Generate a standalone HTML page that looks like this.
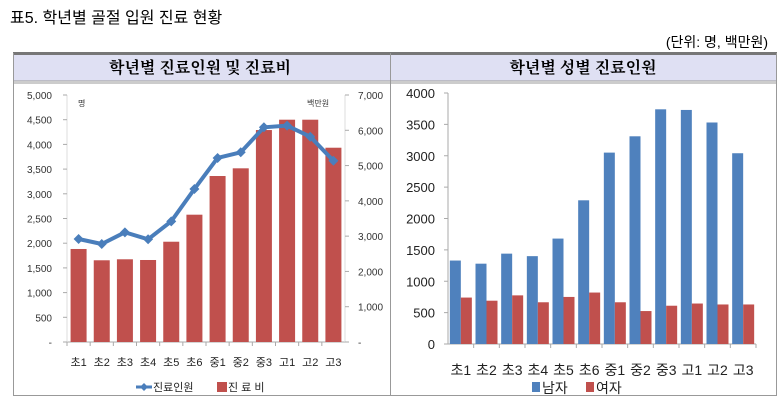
<!DOCTYPE html>
<html><head><meta charset="utf-8">
<style>
body{margin:0;background:#fff;width:781px;height:413px;overflow:hidden;font-family:"Liberation Sans","Noto Sans CJK KR",sans-serif;}
svg{display:block}
</style></head>
<body>
<svg id="s" width="781" height="413" xmlns="http://www.w3.org/2000/svg" font-family="'Liberation Sans','Noto Sans CJK KR',sans-serif">
<text x="10" y="23" font-size="16" font-family="'Liberation Sans','Noto Sans CJK KR',sans-serif">표5. 학년별 골절 입원 진료 현황</text>
<text x="768" y="47" font-size="14" text-anchor="end" font-family="'Liberation Sans','Noto Sans CJK KR',sans-serif">(단위: 명, 백만원)</text>
<rect x="13" y="54" width="764" height="27" fill="#dfe0f3"/>
<line x1="13" y1="53.5" x2="777" y2="53.5" stroke="#777" stroke-width="3"/>
<line x1="13" y1="81" x2="777" y2="81" stroke="#999" stroke-width="1"/>
<line x1="13" y1="83" x2="777" y2="83" stroke="#999" stroke-width="1"/>
<line x1="13.5" y1="53" x2="13.5" y2="396" stroke="#999"/>
<line x1="776.5" y1="53" x2="776.5" y2="396" stroke="#999"/>
<line x1="390.5" y1="53" x2="390.5" y2="396" stroke="#999"/>
<line x1="13" y1="395.5" x2="777" y2="395.5" stroke="#999"/>
<text x="200" y="73" font-size="16" font-weight="bold" text-anchor="middle" font-family="'Liberation Serif','Noto Serif CJK SC',serif">학년별 진료인원 및 진료비</text>
<text x="583" y="73" font-size="16" font-weight="bold" text-anchor="middle" font-family="'Liberation Serif','Noto Serif CJK SC',serif">학년별 성별 진료인원</text>
<g id="left"></g>
<g id="right"></g>
</svg>
<script>
const categories=["초1","초2","초3","초4","초5","초6","중1","중2","중3","고1","고2","고3"];
const patients=[2085,1984,2220,2079,2443,3097,3725,3840,4346,4379,4156,3670];
const costs=[2636,2316,2344,2324,2842,3608,4704,4922,6007,6300,6300,5506];
const leftTicks=["-","500","1,000","1,500","2,000","2,500","3,000","3,500","4,000","4,500","5,000"];
const rightTicks=["-","1,000","2,000","3,000","4,000","5,000","6,000","7,000"];
const male=[1330,1280,1440,1400,1680,2290,3050,3310,3740,3730,3530,3040];
const female=[740,690,775,665,750,820,665,525,610,645,630,630];
const genderTicks=["0","500","1000","1500","2000","2500","3000","3500","4000"];
const NS="http://www.w3.org/2000/svg";
function mk(p,t,a,txt){const e=document.createElementNS(NS,t);for(const k in a)e.setAttribute(k,a[k]);if(txt!==undefined)e.textContent=txt;p.appendChild(e);return e;}
const L=document.getElementById('left');
const lx0=67,lx1=345,ly0=342,ly1=95;
const yL=v=>ly0-(v/5000)*(ly0-ly1);
const yR=v=>ly0-(v/7000)*(ly0-ly1);
const bw=(lx1-lx0)/categories.length;
const xc=i=>lx0+bw*(i+0.5);
mk(L,'line',{x1:lx0,y1:ly0,x2:lx1,y2:ly0,stroke:'#aaa'});
mk(L,'line',{x1:lx0,y1:ly1,x2:lx0,y2:ly0,stroke:'#ddd'});
mk(L,'line',{x1:lx1,y1:ly1,x2:lx1,y2:ly0,stroke:'#ddd'});
leftTicks.forEach((t,i)=>{const v=i*500;const e=mk(L,'text',{x:52,y:yL(v)+4,'font-size':10,'text-anchor':'end',fill:'#333'},t);


mk(L,'line',{x1:lx0-4,y1:yL(v),x2:lx0,y2:yL(v),stroke:'#aaa'});});
rightTicks.forEach((t,i)=>{const v=i*1000;const e=mk(L,'text',{x:358,y:yR(v)+4,'font-size':10,fill:'#333'},t);


mk(L,'line',{x1:lx1,y1:yR(v),x2:lx1+4,y2:yR(v),stroke:'#aaa'});});
mk(L,'text',{x:78,y:106,'font-size':8,fill:'#333'},'명');
mk(L,'text',{x:307,y:106,'font-size':8,fill:'#333'},'백만원');
categories.forEach((c,i)=>{
 const r=mk(L,'rect',{x:xc(i)-8,y:yR(costs[i]),width:16,height:ly0-yR(costs[i]),fill:'#c0504d'});
 
 
 mk(L,'line',{x1:lx0+bw*i,y1:ly0,x2:lx0+bw*i,y2:ly0+4,stroke:'#aaa'});
 const t=mk(L,'text',{x:xc(i),y:366,'font-size':11,'text-anchor':'middle',fill:'#222'},c);
 
 
});
const pts=patients.map((v,i)=>xc(i)+','+yL(v)).join(' ');
const pl=mk(L,'polyline',{points:pts,fill:'none',stroke:'#4a7ebb','stroke-width':4,'stroke-linejoin':'round'});


patients.forEach((v,i)=>{const x=xc(i),y=yL(v);const d=mk(L,'polygon',{points:`${x},${y-5} ${x+5},${y} ${x},${y+5} ${x-5},${y}`,fill:'#4a7ebb'});

});
const lg1=mk(L,'g',{});


mk(lg1,'line',{x1:136,y1:387,x2:152,y2:387,stroke:'#4a7ebb','stroke-width':3});
mk(lg1,'polygon',{points:'144,383 148,387 144,391 140,387',fill:'#4a7ebb'});
mk(lg1,'text',{x:153,y:391,'font-size':11,fill:'#222'},'진료인원');
mk(lg1,'rect',{x:217,y:382,width:10,height:10,fill:'#c0504d'});
mk(lg1,'text',{x:228,y:391,'font-size':11,fill:'#222'},'진 료 비');
const R=document.getElementById('right');
const rx0=448,rx1=756,ry0=344,ry1=93;
const yG=v=>ry0-(v/4000)*(ry0-ry1);
const gw=(rx1-rx0)/categories.length;
mk(R,'line',{x1:rx0,y1:ry0,x2:rx1,y2:ry0,stroke:'#aaa'});
mk(R,'line',{x1:rx0,y1:ry1,x2:rx0,y2:ry0,stroke:'#aaa'});
genderTicks.forEach((t,i)=>{const v=i*500;const e=mk(R,'text',{x:435,y:yG(v)+5,'font-size':13,'text-anchor':'end',fill:'#222'},t);


mk(R,'line',{x1:rx0-4,y1:yG(v),x2:rx0,y2:yG(v),stroke:'#aaa'});});
categories.forEach((c,i)=>{
 const cx=rx0+gw*(i+0.5);
 const m=mk(R,'rect',{x:cx-11,y:yG(male[i]),width:11,height:ry0-yG(male[i]),fill:'#4f81bd'});
 
 
 const f=mk(R,'rect',{x:cx,y:yG(female[i]),width:11,height:ry0-yG(female[i]),fill:'#c0504d'});
 
 
 mk(R,'line',{x1:rx0+gw*(i+1),y1:ry0,x2:rx0+gw*(i+1),y2:ry0+4,stroke:'#aaa'});
 const t=mk(R,'text',{x:cx,y:375,'font-size':14,'text-anchor':'middle',fill:'#222'},c);
 
 
});
const lg2=mk(R,'g',{});


mk(lg2,'rect',{x:532,y:382,width:8,height:10,fill:'#4f81bd'});
mk(lg2,'text',{x:542,y:393,'font-size':14,fill:'#222'},'남자');
mk(lg2,'rect',{x:586,y:382,width:8,height:10,fill:'#c0504d'});
mk(lg2,'text',{x:596,y:393,'font-size':14,fill:'#222'},'여자');
</script>
</body></html>
